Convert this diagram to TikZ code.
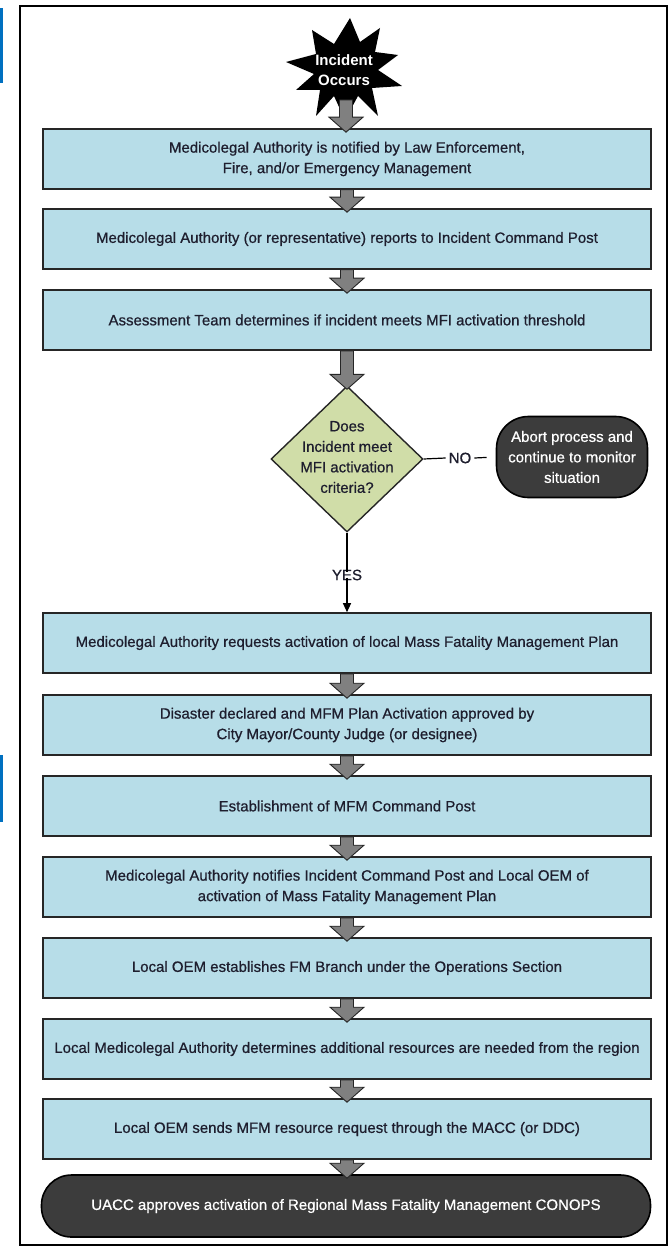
\documentclass[tikz,border=0pt]{standalone}
\usepackage{fontspec}
\setmainfont[FakeBold=0.7]{Liberation Sans}
\newfontfamily\starfont{Liberation Sans Bold}
\usetikzlibrary{shapes.geometric, arrows.meta, calc}
\definecolor{boxblue}{HTML}{B7DDE8}
\definecolor{diagreen}{HTML}{D0DDA8}
\definecolor{darkfill}{HTML}{3C3C3C}
\definecolor{arrowgray}{HTML}{808080}
\definecolor{edgecol}{HTML}{262626}
\definecolor{markblue}{HTML}{0070C0}
\definecolor{textcol}{HTML}{1E1E2E}
\newcommand{\garrow}[2]{%
  \draw[draw=edgecol, fill=arrowgray, line width=0.9pt, line join=miter]
    let \p1=(#1), \p2=(#2) in
    (\x1-6.5pt,\y1) -- (\x1-6.5pt,\y2+15pt) -- (\x1-17pt,\y2+15pt) -- (\x1,\y2)
    -- (\x1+17pt,\y2+15pt) -- (\x1+6.5pt,\y2+15pt) -- (\x1+6.5pt,\y1) -- cycle;}
\tikzset{
  txt/.style={font=\fontsize{15pt}{20.5pt}\selectfont, align=center, inner sep=0pt, text=textcol},
  box/.style={txt, draw=edgecol, fill=boxblue, line width=1.6pt,
    minimum width=608pt, minimum height=60pt},
  darkbox/.style={txt, draw=black, fill=darkfill, line width=1.6pt, text=white},
  conn/.style={draw=black, line width=1.2pt},
}
\begin{document}
\begin{tikzpicture}[x=1pt,y=-1pt]
\useasboundingbox (0,0) rectangle (670,1246);
\fill[white] (0,0) rectangle (670,1246);
\fill[markblue] (0,8) rectangle (2.5,83);
\fill[markblue] (0,755) rectangle (2.5,822);
\draw[line width=2.4pt] (20,6) rectangle (667,1245);

% starburst
\fill[black] (350,18) -- (360,42) -- (380,28) -- (375,52) -- (398,55) -- (378,70)
  -- (402,86) -- (372,88) -- (378,116) -- (358,96) -- (345,120) -- (334,96)
  -- (316,116) -- (320,90) -- (296,90) -- (314,74) -- (286,62) -- (316,54)
  -- (312,30) -- (334,44) -- cycle;
\node[txt, text=white, font=\starfont\fontsize{15pt}{20pt}\selectfont] (inc) at (344,70) {Incident\\Occurs};
\coordinate (incbot) at (346,100);

\node[box] (b1) at (347,159) {Medicolegal Authority is notified by Law Enforcement,\\Fire, and/or Emergency Management};
\node[box] (b2) at (347,239) {Medicolegal Authority (or representative) reports to Incident Command Post};
\node[box] (b3) at (347,320) {Assessment Team determines if incident meets MFI activation threshold};

\node[diamond, draw=edgecol, fill=diagreen, line width=1.4pt, minimum width=152pt,
  minimum height=146pt, inner sep=0pt] (dec) at (347,459) {};
\node[txt] (dectext) at (347,457) {Does\\Incident meet\\MFI activation\\criteria?};
\node[txt] (no) at (460,458) {NO};
\node[darkbox, minimum width=151pt, minimum height=81pt, rounded corners=32pt] (abort) at (572,457) {Abort process and\\continue to monitor\\situation};
\node[txt] (yes) at (347,575) {YES};

\node[box] (b4) at (347,643) {Medicolegal Authority requests activation of local Mass Fatality Management Plan};
\node[box] (b5) at (347,725) {Disaster declared and MFM Plan Activation approved by\\City Mayor/County Judge (or designee)};
\node[box] (b6) at (347,806) {Establishment of MFM Command Post};
\node[box] (b7) at (347,887) {Medicolegal Authority notifies Incident Command Post and Local OEM of\\activation of Mass Fatality Management Plan};
\node[box] (b8) at (347,968) {Local OEM establishes FM Branch under the Operations Section};
\node[box] (b9) at (347,1049) {Local Medicolegal Authority determines additional resources are needed from the region};
\node[box] (b10) at (347,1129) {Local OEM sends MFM resource request through the MACC (or DDC)};
\node[darkbox, minimum width=609pt, minimum height=62pt, rounded corners=30pt] (final) at (346,1206) {UACC approves activation of Regional Mass Fatality Management CONOPS};

% connectors
\garrow{incbot}{$(b1.north)+(0,4)$}
\garrow{b1.south}{$(b2.north)+(0,4)$}
\garrow{b2.south}{$(b3.north)+(0,4)$}
\garrow{b3.south}{$(dec.north)+(0,4)$}
\draw[conn] (dec.east) -- ([xshift=-3pt]no.west);
\draw[conn, shorten >=9pt] ([xshift=3pt]no.east) -- (abort.west);
\draw[conn] (dec.south) -- ([yshift=-3pt]yes.north);
\draw[conn, -{Triangle[length=9pt,width=8pt]}] ([yshift=3pt]yes.south) -- (b4.north);
\garrow{b4.south}{$(b5.north)+(0,4)$}
\garrow{b5.south}{$(b6.north)+(0,4)$}
\garrow{b6.south}{$(b7.north)+(0,4)$}
\garrow{b7.south}{$(b8.north)+(0,4)$}
\garrow{b8.south}{$(b9.north)+(0,4)$}
\garrow{b9.south}{$(b10.north)+(0,4)$}
\garrow{b10.south}{$(final.north)+(0,4)$}
\end{tikzpicture}
\end{document}
